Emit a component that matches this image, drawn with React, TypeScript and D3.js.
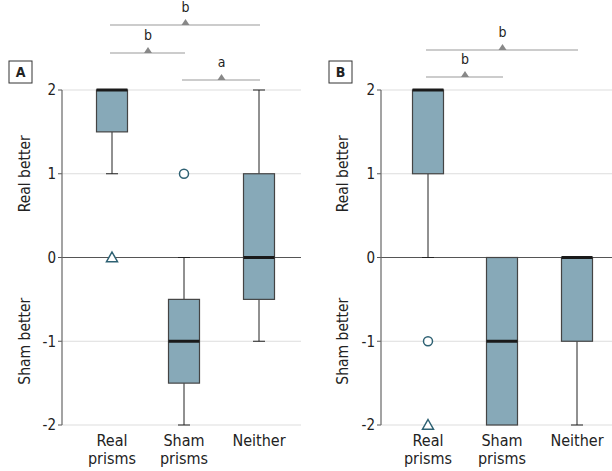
import React from "react";
import * as d3 from "d3";

const categories = ["Real prisms", "Sham prisms", "Neither"];
const yTicks = [2, 1, 0, -1, -2];

// Panel A box stats: [whiskerLow, q1, median, q3, whiskerHigh]
const panelA = [
  [1, 1.5, 2, 2, 2],
  [-2, -1.5, -1, -0.5, 0],
  [-1, -0.5, 0, 1, 2],
];
const panelAOutliers = [
  { cat: 0, value: 0, shape: "triangle" },
  { cat: 1, value: 1, shape: "circle" },
];
const panelABrackets = [
  { from: 0, to: 2, label: "b", level: 0 },
  { from: 0, to: 1, label: "b", level: 1 },
  { from: 1, to: 2, label: "a", level: 2 },
];

const panelB = [
  [0, 1, 2, 2, 2],
  [-2, -2, -1, 0, 0],
  [-2, -1, 0, 0, 0],
];
const panelBOutliers = [
  { cat: 0, value: -1, shape: "circle" },
  { cat: 0, value: -2, shape: "triangle" },
];
const panelBBrackets = [
  { from: 0, to: 2, label: "b", level: 1 },
  { from: 0, to: 1, label: "b", level: 2 },
];

const FONT = "'Liberation Sans Narrow', 'DejaVu Sans Condensed', 'Liberation Sans', sans-serif";
const BOX_FILL = "#87A9B8";
const OUT_COLOR = "#2E6173";

type Outlier = { cat: number; value: number; shape: string };
type Bracket = { from: number; to: number; label: string; level: number };

function Panel(props: {
  letter: string;
  axisX: number;
  gridEnd: number;
  catX: number[];
  labelX: number;
  letterX: number;
  letterY: number;
  stats: number[][];
  outliers: Outlier[];
  brackets: Bracket[];
  bracketY: number[];
}) {
  const { axisX, gridEnd, catX, stats, outliers, brackets, bracketY } = props;
  const y = d3.scaleLinear().domain([-2, 2]).range([425, 90]);
  const x = d3.scaleOrdinal<number, number>().domain([0, 1, 2]).range(catX);
  const bw = 31;
  const cap = 12;
  return (
    <g>
      {yTicks.map((t) => (
        <g key={t}>
          <line
            x1={axisX}
            x2={gridEnd}
            y1={y(t)}
            y2={y(t)}
            stroke={t === 0 ? "#555" : "#ddd"}
            strokeWidth={t === 0 ? 1.2 : 1}
          />
          <line x1={axisX - 4} x2={axisX} y1={y(t)} y2={y(t)} stroke="#555" />
          <text
            x={axisX - 6}
            y={y(t)}
            dy="0.35em"
            textAnchor="end"
            fontSize={15}
            fontFamily={FONT}
            fill="#222"
          >
            {t < 0 ? `-${Math.abs(t)}` : t}
          </text>
        </g>
      ))}
      <line x1={axisX} x2={axisX} y1={y(2)} y2={y(-2)} stroke="#666" strokeWidth={1.2} />
      <text
        transform={`translate(${props.labelX},${y(1)}) rotate(-90)`}
        textAnchor="middle"
        dy="0.35em"
        fontSize={15.5}
        fontFamily={FONT}
        fill="#222"
      >
        Real better
      </text>
      <text
        transform={`translate(${props.labelX},${y(-1)}) rotate(-90)`}
        textAnchor="middle"
        dy="0.35em"
        fontSize={15.5}
        fontFamily={FONT}
        fill="#222"
      >
        Sham better
      </text>
      <rect x={props.letterX} y={props.letterY} width={23} height={22} fill="white" stroke="#333" />
      <text
        x={props.letterX + 11.5}
        y={props.letterY + 11}
        dy="0.36em"
        textAnchor="middle"
        fontWeight="bold"
        fontSize={14}
        fontFamily={FONT}
        fill="#222"
      >
        {props.letter}
      </text>
      {stats.map((s, i) => {
        const cx = x(i);
        const [wl, q1, med, q3, wh] = s;
        return (
          <g key={i}>
            {wh > q3 && (
              <>
                <line x1={cx} x2={cx} y1={y(q3)} y2={y(wh)} stroke="#222" />
                <line x1={cx - cap / 2} x2={cx + cap / 2} y1={y(wh)} y2={y(wh)} stroke="#222" />
              </>
            )}
            {wl < q1 && (
              <>
                <line x1={cx} x2={cx} y1={y(q1)} y2={y(wl)} stroke="#222" />
                <line x1={cx - cap / 2} x2={cx + cap / 2} y1={y(wl)} y2={y(wl)} stroke="#222" />
              </>
            )}
            <rect
              x={cx - bw / 2}
              y={y(q3)}
              width={bw}
              height={y(q1) - y(q3)}
              fill={BOX_FILL}
              stroke="#444"
              strokeWidth={1.2}
            />
            <line x1={cx - bw / 2} x2={cx + bw / 2} y1={y(med)} y2={y(med)} stroke="#1a1a1a" strokeWidth={3} />
          </g>
        );
      })}
      {outliers.map((o, i) => {
        const cx = x(o.cat);
        const cy = y(o.value);
        if (o.shape === "circle")
          return <circle key={i} cx={cx} cy={cy} r={4.5} fill="white" stroke={OUT_COLOR} strokeWidth={1.5} />;
        const s = 5.5;
        return (
          <path
            key={i}
            d={`M${cx},${cy - s}L${cx + s},${cy + s * 0.75}L${cx - s},${cy + s * 0.75}Z`}
            fill="white"
            stroke={OUT_COLOR}
            strokeWidth={1.5}
          />
        );
      })}
      {brackets.map((b, i) => {
        const by = bracketY[b.level];
        const x1 = x(b.from);
        const x2 = x(b.to);
        const mx = (x1 + x2) / 2;
        return (
          <g key={i}>
            <line x1={x1 - 2} x2={x2 + 1} y1={by} y2={by} stroke="#999" strokeWidth={1.2} />
            <path d={`M${mx - 4},${by}L${mx},${by - 6}L${mx + 4},${by}Z`} fill="#888" />
            <text
              x={mx}
              y={by - 13}
              textAnchor="middle"
              fontSize={14}
              fontFamily={FONT}
              fill="#222"
            >
              {b.label}
            </text>
          </g>
        );
      })}
      {categories.map((c, i) => {
        const parts = c.split(" ");
        return (
          <text key={c} x={x(i)} y={446} textAnchor="middle" fontSize={16} fontFamily={FONT} fill="#222">
            {parts.map((p, j) => (
              <tspan key={j} x={x(i)} dy={j === 0 ? 0 : 18}>
                {p}
              </tspan>
            ))}
          </text>
        );
      })}
    </g>
  );
}

export default function App() {
  return (
    <svg
      width={612}
      height={471}
      style={{ position: "absolute", left: 0, top: 0, background: "white" }}
    >
      <rect width={612} height={471} fill="white" />
      <Panel
        letter="A"
        axisX={62}
        gridEnd={301}
        catX={[112, 184, 259]}
        labelX={25}
        letterX={9}
        letterY={61}
        stats={panelA}
        outliers={panelAOutliers}
        brackets={panelABrackets}
        bracketY={[25, 53, 80]}
      />
      <Panel
        letter="B"
        axisX={381}
        gridEnd={612}
        catX={[428, 502, 577]}
        labelX={343}
        letterX={329}
        letterY={61}
        stats={panelB}
        outliers={panelBOutliers}
        brackets={panelBBrackets}
        bracketY={[25, 50, 77]}
      />
    </svg>
  );
}
